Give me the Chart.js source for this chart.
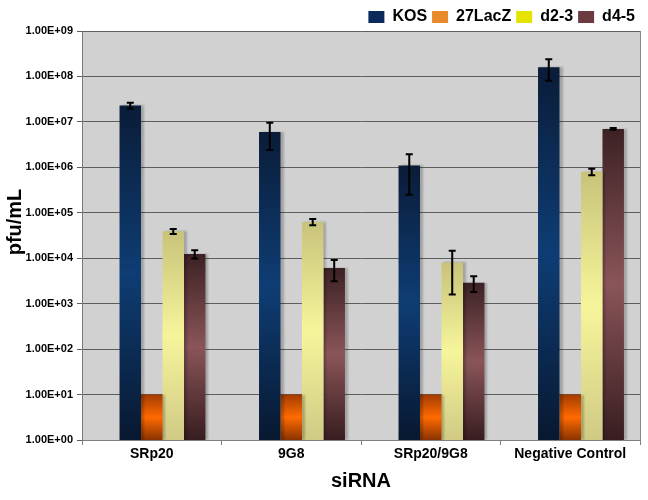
<!DOCTYPE html>
<html>
<head>
<meta charset="utf-8">
<script src="https://cdn.jsdelivr.net/npm/chart.js@4.4.1/dist/chart.umd.min.js"></script>
<style>
  html, body { margin: 0; padding: 0; background: #fff; }
</style>
</head>
<body>
<canvas id="chart" width="648" height="500"></canvas>
<script>
// siRNA knockdown, virus yield per series (log scale)
const categorias = ["SRp20", "9G8", "SRp20/9G8", "Negative Control"];
const series = ["KOS", "27LacZ", "d2-3", "d4-5"];

const kos = [2.3e7, 6.0e6, 1.1e6, 1.6e8];
const kosErr = [3.5e6, 3.6e6, 8.5e5, 8.0e7];
const lacz = [10, 10, 10, 10];
const laczErr = [0, 0, 0, 0];
const d23 = [3.9e4, 6.3e4, 8.1e3, 8.0e5];
const d23Err = [5.0e3, 1.0e4, 6.5e3, 1.3e5];
const d45 = [1.24e4, 6.1e3, 2.9e3, 7.0e6];
const d45Err = [2.5e3, 3.0e3, 1.1e3, 3.0e5];

const yTicks = [1, 10, 100, 1e3, 1e4, 1e5, 1e6, 1e7, 1e8, 1e9];

const fuente = '"Liberation Sans", Arial, sans-serif';

// colores: degradado vertical (arriba, centro, abajo) y color de leyenda
const degradados = [
  ["#0a1c38", "#0e3d74", "#081830"],
  ["#a33c00", "#ff6a00", "#8a3300"],
  ["#c8c37a", "#f7f59b", "#d0ca85"],
  ["#3c2124", "#8a5558", "#381d20"]
];
const coloresLeyenda = ["#0b2a5c", "#e8892c", "#e4e400", "#6b3b40"];

function gradiente(stops) {
  return function (ctx) {
    const chart = ctx.chart;
    const area = chart.chartArea;
    if (!area || ctx.type !== "data" || ctx.raw == null) return stops[1];
    const top = chart.scales.y.getPixelForValue(ctx.raw);
    const g = chart.ctx.createLinearGradient(0, top, 0, area.bottom);
    g.addColorStop(0, stops[0]);
    g.addColorStop(0.5, stops[1]);
    g.addColorStop(1, stops[2]);
    return g;
  };
}

const valores = [kos, lacz, d23, d45];
const errores = [kosErr, laczErr, d23Err, d45Err];

// serie vacía al inicio: deja el hueco a la izquierda como en el original
const datasets = [{ label: "", data: [null, null, null, null], backgroundColor: "rgba(0,0,0,0)" }];
series.forEach((nombre, i) => {
  datasets.push({
    label: nombre,
    data: valores[i],
    backgroundColor: gradiente(degradados[i]),
    borderWidth: 0
  });
});

const fondoYErrores = {
  id: "fondoYErrores",
  beforeUpdate(chart) {
    // altura fija de la leyenda
    const lg = chart.legend;
    if (lg && !lg._fijo) {
      const fit = lg.fit.bind(lg);
      lg.fit = function () { fit(); this.height = 27; };
      lg._fijo = true;
    }
  },
  beforeDraw(chart) {
    const { ctx, chartArea: a } = chart;
    ctx.save();
    ctx.fillStyle = "#d1d1d1";
    ctx.fillRect(a.left, a.top, a.right - a.left, a.bottom - a.top);
    ctx.restore();
  },
  beforeDatasetsDraw(chart) {
    const ctx = chart.ctx;
    ctx.save();
    ctx.shadowColor = "rgba(0,0,0,0.22)";
    ctx.shadowOffsetX = 3;
    ctx.shadowOffsetY = 0;
    ctx.shadowBlur = 2;
  },
  afterDatasetsDraw(chart) {
    const { ctx, chartArea: a, scales: { y } } = chart;
    ctx.restore();

    // borde derecho
    ctx.save();
    ctx.strokeStyle = "#8a8a8a";
    ctx.lineWidth = 1;
    ctx.beginPath();
    ctx.moveTo(a.right + 0.5, a.top);
    ctx.lineTo(a.right + 0.5, a.bottom);
    ctx.stroke();

    // barras de error
    ctx.strokeStyle = "#000";
    ctx.lineWidth = 2;
    for (let s = 0; s < series.length; s++) {
      const meta = chart.getDatasetMeta(s + 1);
      meta.data.forEach((bar, j) => {
        const v = valores[s][j];
        const e = errores[s][j];
        if (!e) return;
        const x = bar.x;
        const y1 = y.getPixelForValue(v + e);
        const y2 = y.getPixelForValue(Math.max(v - e, 1));
        ctx.beginPath();
        ctx.moveTo(x, y1); ctx.lineTo(x, y2);
        ctx.moveTo(x - 3.5, y1); ctx.lineTo(x + 3.5, y1);
        ctx.moveTo(x - 3.5, y2); ctx.lineTo(x + 3.5, y2);
        ctx.stroke();
      });
    }
    ctx.restore();
  },
  afterDraw(chart) {
    // título del eje Y
    const ctx = chart.ctx;
    ctx.save();
    ctx.translate(15, 222);
    ctx.rotate(-Math.PI / 2);
    ctx.fillStyle = "#000";
    ctx.font = "bold 20px " + fuente;
    ctx.textAlign = "center";
    ctx.textBaseline = "middle";
    ctx.fillText("pfu/mL", 0, 0);
    ctx.restore();
  }
};

const ctx = document.getElementById("chart").getContext("2d");
new Chart(ctx, {
  type: "bar",
  data: { labels: categorias, datasets: datasets },
  plugins: [fondoYErrores],
  options: {
    responsive: false,
    animation: false,
    layout: { padding: { left: 0, right: 8, top: 4, bottom: 0 } },
    datasets: { bar: { categoryPercentage: 0.77, barPercentage: 1.0 } },
    plugins: {
      tooltip: { enabled: false },
      legend: {
        position: "top",
        align: "end",
        labels: {
          boxWidth: 16,
          boxHeight: 12,
          padding: 5,
          color: "#000",
          font: { family: fuente, size: 16, weight: "bold" },
          filter: (item) => item.datasetIndex !== 0,
          generateLabels(chart) {
            return chart.data.datasets.map((d, i) => ({
              text: d.label,
              datasetIndex: i,
              fillStyle: i > 0 ? coloresLeyenda[i - 1] : "rgba(0,0,0,0)",
              strokeStyle: i > 0 ? coloresLeyenda[i - 1] : "rgba(0,0,0,0)",
              lineWidth: 0,
              hidden: false,
              fontColor: "#000"
            }));
          }
        }
      }
    },
    scales: {
      x: {
        afterFit(scale) { scale.height = 60; },
        grid: { display: true, offset: true, drawOnChartArea: false, tickLength: 5, color: "#808080" },
        border: { display: true, color: "#808080", width: 1 },
        ticks: { color: "#000", padding: 1, font: { family: fuente, size: 14, weight: "bold" } },
        title: {
          display: true,
          text: "siRNA",
          color: "#000",
          padding: { top: 0, bottom: 7 },
          font: { family: fuente, size: 20, weight: "bold" }
        }
      },
      y: {
        type: "logarithmic",
        min: 1,
        max: 1e9,
        afterFit(scale) { scale.width = 82; },
        afterBuildTicks(scale) { scale.ticks = yTicks.map((v) => ({ value: v })); },
        grid: { color: "#5e5e5e", lineWidth: 1, tickLength: 5 },
        border: { display: true, color: "#7a7a7a", width: 1 },
        ticks: {
          color: "#000",
          padding: 4,
          font: { family: fuente, size: 11, weight: "bold" },
          callback: (v) => "1.00E+" + String(Math.round(Math.log10(v))).padStart(2, "0")
        }
      }
    }
  }
});
</script>
</body>
</html>
